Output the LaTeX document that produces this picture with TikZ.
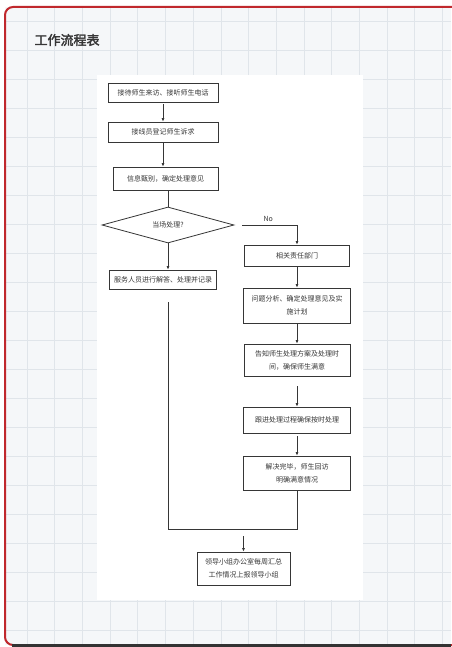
\documentclass[tikz,border=0pt]{standalone}
\usepackage{fontspec}
\setmainfont{Noto Sans CJK SC}
\newfontfamily\headfont{Noto Sans CJK SC}[AutoFakeBold=2.5]
\usepackage{tikz}
\usetikzlibrary{positioning,shapes.geometric,arrows.meta}
\definecolor{gridbg}{HTML}{F5F7F9}
\definecolor{gridline}{HTML}{E0E5EA}
\definecolor{framered}{HTML}{C0282D}
\definecolor{ink}{HTML}{363636}

\begin{document}
\begin{tikzpicture}[x=1pt,y=-1pt,
    box/.style={draw=ink,line width=0.8pt,fill=white,inner sep=1pt,align=center,text=ink,font=\fontsize{7}{13}\selectfont},
    decide/.style={diamond,draw=ink,line width=0.8pt,fill=white,inner sep=0pt,aspect=3.6,text=ink,font=\fontsize{7}{9}\selectfont},
    link/.style={draw=ink,line width=0.7pt},
    arr/.style={link,-{Latex[length=3.5pt,width=3pt]}}]
      \useasboundingbox (0,0) rectangle (451,647);
      \fill[white] (0,0) rectangle (451,647);
      \fill[gridbg] (5,7) rectangle (451,645);
      \foreach \x in {0,...,15} \draw[gridline,line width=0.7pt] ({27+27.7*\x},7) -- ({27+27.7*\x},645);
      \foreach \y in {0,...,21} \draw[gridline,line width=0.7pt] (5,{21.5+29*\y}) -- (451,{21.5+29*\y});
      \fill[white] (97,75) rectangle (363,600);
      \draw[framered,line width=2pt,rounded corners=8pt] (460,7) -- (5,7) -- (5,645) -- (460,645);
      \draw[black!80,line width=3pt] (12,645) -- (451,645);
      \node[anchor=west,text=ink,font=\headfont\bfseries\fontsize{13}{13}\selectfont](title) at (31,40) {工作流程表};

      \node[box,minimum width=110,minimum height=19](visit) at (163,92.5) {接待师生来访、接听师生电话};
      \node[box,minimum width=110,minimum height=20](log) at (163,132) {接线员登记师生诉求};
      \node[box,minimum width=105,minimum height=23](judge) at (165.5,178.5) {信息甄别，确定处理意见};
      \node[decide,minimum width=132,minimum height=36](spot) at (168,225) {当场处理?};
      \node[box,minimum width=107,minimum height=19](serve) at (163,279.5) {服务人员进行解答、处理并记录};
      \node[box,minimum width=105,minimum height=21](dept) at (297,255.5) {相关责任部门};
      \node[box,minimum width=107,minimum height=35](plan) at (297,305.5) {问题分析、确定处理意见及实\\施计划};
      \node[box,minimum width=106,minimum height=32](tell) at (297,360) {告知师生处理方案及处理时\\间，确保师生满意};
      \node[box,minimum width=107,minimum height=26](track) at (297,420) {跟进处理过程确保按时处理};
      \node[box,minimum width=107,minimum height=34](done) at (297,473) {解决完毕，师生回访\\明确满意情况};
      \node[box,minimum width=93,minimum height=33](report) at (243.5,568.5) {领导小组办公室每周汇总\\工作情况上报领导小组};

      \coordinate (gap) at (168,302);
      \coordinate (bend) at (168,529);

      \draw[arr,shorten <=2pt] (visit) -- (log);
      \draw[arr] (log) -- (log |- judge.north);
      \draw[link] (spot.north |- judge.south) -- (spot.north);
      \draw[arr] (spot) -- (spot |- serve.north);
      \draw[arr,shorten <=8pt] (spot.east) -| (dept) node[pos=0.27,above,text=ink,font=\fontsize{7}{9}\selectfont]{No};
      \draw[arr] (dept) -- (plan);
      \draw[arr] (plan) -- (tell);
      \draw[arr,shorten <=10pt] (tell) -- (track);
      \draw[arr,shorten <=3pt] (track) -- (done);
      \draw[link] (gap) -- (bend) -| (done);
      \draw[arr,shorten <=7pt] (report |- bend) -- (report);
    \end{tikzpicture}
\end{document}
